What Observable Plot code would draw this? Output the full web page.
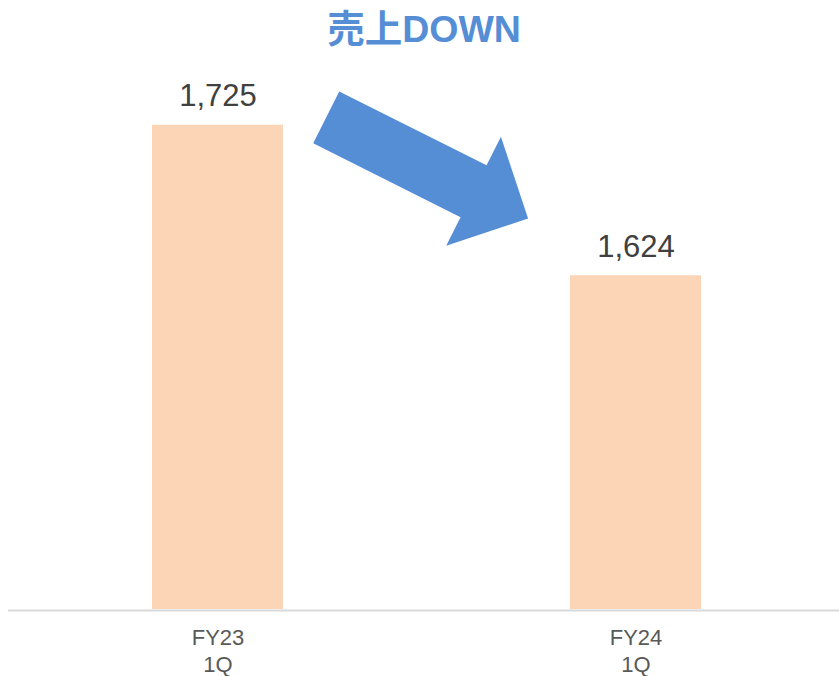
<!DOCTYPE html>
<html><head><meta charset="utf-8">
<script src="https://cdn.jsdelivr.net/npm/d3@7"></script>
<script src="https://cdn.jsdelivr.net/npm/@observablehq/plot@0.6"></script>
<style>body{margin:0;background:#fff;} #chart svg{display:block;}</style>
</head><body><div id="chart"></div>
<script>
const categories = ["FY23\n1Q", "FY24\n1Q"];
const values = [1725, 1624];
const valueLabels = ["1,725", "1,624"];
const title = "売上DOWN";
// decorative arrow: from first period toward second (data units for y)
const arrowFrom = {category: "FY23\n1Q", value: 1730};
const arrowTo = {category: "FY24\n1Q", value: 1662};

const data = categories.map((c, i) => ({category: c, value: values[i], label: valueLabels[i]}));
const FONT = '"Liberation Sans", Arial, "Noto Sans CJK JP", sans-serif';

const plot = Plot.plot({
  width: 839, height: 676,
  marginLeft: 8, marginRight: 0, marginTop: 13, marginBottom: 67,
  style: {fontFamily: FONT, background: "white"},
  x: {domain: categories, paddingInner: 0.6866, paddingOuter: 0.3373, align: 0.51, label: null},
  y: {domain: [1400, 1800], axis: null},
  marks: [
    Plot.barY(data, {x: "category", y1: 1400, y2: "value", fill: "#FBD5B5"}),
    Plot.ruleY([1400], {stroke: "#D9D9D9", strokeWidth: 2, dy: 1}),
    Plot.text(data, {x: "category", y: "value", text: "label", dy: -19, lineAnchor: "bottom",
      fontSize: 31, fill: "#404040"}),
    Plot.axisX({tickSize: 0, tickPadding: 17, fontSize: 22, fill: "#595959", lineHeight: 1.2, label: null}),
    Plot.text([title], {frameAnchor: "top", text: d => d, dy: 2, fontSize: 37.5, fontWeight: "bold",
      fill: "#558ED5", fontFamily: FONT})
  ]
});
document.getElementById("chart").append(plot);

// Block arrow positioned through the plot's own scales
const sx = plot.scale("x"), sy = plot.scale("y");
const bw = sx.bandwidth;
const tail = [sx.apply(arrowFrom.category) + bw * 1.33, sy.apply(arrowFrom.value)];
const tip = [sx.apply(arrowTo.category) - bw * 0.32, sy.apply(arrowTo.value)];
const dxa = tip[0] - tail[0], dya = tip[1] - tail[1];
const L = Math.hypot(dxa, dya);
const u = [dxa / L, dya / L], n = [-u[1], u[0]];
const shaftHalf = 29, headHalf = 61, headLen = 61;
const base = [tip[0] - u[0] * headLen, tip[1] - u[1] * headLen];
const P = (p, k) => [p[0] + n[0] * k, p[1] + n[1] * k];
const pts = [P(tail, shaftHalf), P(base, shaftHalf), P(base, headHalf), tip,
  P(base, -headHalf), P(base, -shaftHalf), P(tail, -shaftHalf)];
d3.select(plot).append("path")
  .attr("d", "M" + pts.map(p => p.join(",")).join("L") + "Z")
  .attr("fill", "#558ED5");
</script>
</body></html>
